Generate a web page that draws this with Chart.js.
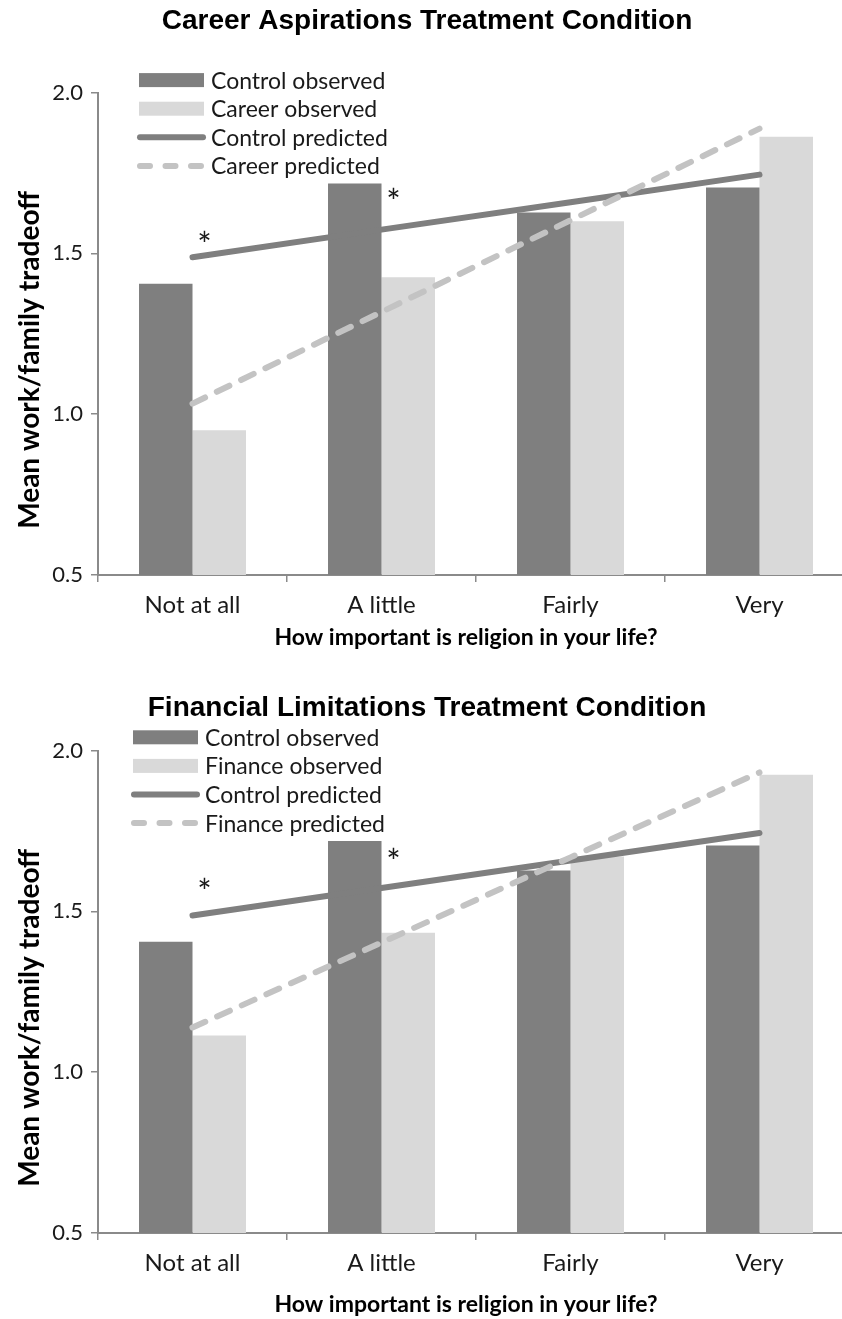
<!DOCTYPE html>
<html>
<head>
<meta charset="utf-8">
<script src="https://cdn.jsdelivr.net/npm/chart.js@4.4.1/dist/chart.umd.min.js"></script>
<style>
  html, body { margin: 0; padding: 0; background: #fff; overflow: hidden; }
  #wrap { position: relative; width: 842px; height: 1319px; overflow: hidden; }
  .box { position: absolute; left: 0; width: 854px; }
</style>
</head>
<body>
<div id="wrap">
  <div class="box" style="top:0; height:660px;"><canvas id="careerChart"></canvas></div>
  <div class="box" style="top:660px; height:659px;"><canvas id="financeChart"></canvas></div>
</div>
<script>
// Response categories and value axis
const categories = ['Not at all', 'A little', 'Fairly', 'Very'];
const yTickValues = [0.5, 1.0, 1.5, 2.0];

// Career aspirations condition
const careerControlObserved  = [1.406, 1.717, 1.627, 1.705];
const careerTreatObserved    = [0.950, 1.426, 1.600, 1.863];
const careerControlPredicted = [1.488, 1.574, 1.659, 1.745];
const careerTreatPredicted   = [1.033, 1.318, 1.603, 1.888];
const careerStarIndex  = [0, 1];
const careerStarValues = [1.547, 1.682];

// Financial limitations condition
const financeControlObserved  = [1.406, 1.719, 1.627, 1.705];
const financeTreatObserved    = [1.114, 1.434, 1.671, 1.925];
const financeControlPredicted = [1.487, 1.573, 1.658, 1.744];
const financeTreatPredicted   = [1.139, 1.403, 1.668, 1.932];
const financeStarIndex  = [0, 1];
const financeStarValues = [1.583, 1.676];

const xAxisTitle = 'How important is religion in your life?';
const yAxisTitle = 'Mean work/family tradeoff';

const DARK = '#7f7f7f';
const LIGHT = '#d9d9d9';
const DASHED = '#c3c3c3';
const AXIS = '#8a8a8a';
const TEXT = '#1a1a1a';
const SANS = 'Lato, "Open Sans", sans-serif';

// Legend drawn inside the plot, upper left
const insideLegend = {
  id: 'insideLegend',
  afterDatasetsDraw(chart, args, opts) {
    const { ctx, chartArea } = chart;
    const x0 = chartArea.left + opts.dx;
    const y0 = chartArea.top + opts.dy;
    ctx.save();
    ctx.font = opts.font;
    ctx.textBaseline = 'middle';
    ctx.textAlign = 'left';
    chart.data.datasets.forEach((ds, i) => {
      const y = y0 + i * opts.rowGap;
      if (ds.type === 'bar') {
        ctx.fillStyle = ds.backgroundColor;
        ctx.fillRect(x0, y - 7, 65, 14);
      } else {
        ctx.strokeStyle = ds.borderColor;
        ctx.lineWidth = 6;
        ctx.lineCap = 'round';
        ctx.setLineDash(ds.borderDash && ds.borderDash.length ? [10, 15.5] : []);
        ctx.beginPath();
        ctx.moveTo(x0 + 1, y);
        ctx.lineTo(x0 + 64, y);
        ctx.stroke();
        ctx.setLineDash([]);
      }
      ctx.fillStyle = TEXT;
      ctx.fillText(ds.label, x0 + opts.textGap, y + 1);
    });
    ctx.restore();
  }
};

// Significance asterisks placed on the category / value scales
const starMarks = {
  id: 'starMarks',
  afterDatasetsDraw(chart, args, opts) {
    const { ctx, scales } = chart;
    ctx.save();
    ctx.font = '34px ' + SANS;
    ctx.fillStyle = TEXT;
    ctx.textAlign = 'center';
    ctx.textBaseline = 'middle';
    opts.index.forEach((ci, k) => {
      const x = scales.x.getPixelForValue(ci) + opts.shift;
      const y = scales.y.getPixelForValue(opts.values[k]);
      ctx.fillText('*', x, y + 8);
    });
    ctx.restore();
  }
};

// Axis titles, positioned against the plot area
const axisTitles = {
  id: 'axisTitles',
  afterDraw(chart, args, opts) {
    const { ctx, chartArea } = chart;
    ctx.save();
    ctx.fillStyle = '#000';
    ctx.textAlign = 'center';
    ctx.textBaseline = 'middle';
    ctx.font = 'bold 23px ' + SANS;
    ctx.fillText(xAxisTitle, (chartArea.left + chartArea.right) / 2 + opts.xShift, chartArea.bottom + opts.xDrop);
    ctx.translate(opts.yX, (chartArea.top + chartArea.bottom) / 2 + opts.yShift);
    ctx.rotate(-Math.PI / 2);
    ctx.font = 'bold 28px ' + SANS;
    ctx.fillText(yAxisTitle, 0, 0);
    ctx.restore();
  }
};

function buildChart(id, cfg) {
  return new Chart(document.getElementById(id), {
    type: 'bar',
    data: {
      labels: categories,
      datasets: [
        { type: 'bar', label: 'Control observed', data: cfg.ctrlObs, backgroundColor: DARK, order: 2,
          categoryPercentage: 0.566, barPercentage: 1.0 },
        { type: 'bar', label: cfg.name + ' observed', data: cfg.treatObs, backgroundColor: LIGHT, order: 2,
          categoryPercentage: 0.566, barPercentage: 1.0 },
        { type: 'line', label: 'Control predicted', data: cfg.ctrlPred, borderColor: DARK, borderWidth: 6,
          borderCapStyle: 'round', pointRadius: 0, fill: false, order: 1, tension: 0 },
        { type: 'line', label: cfg.name + ' predicted', data: cfg.treatPred, borderColor: DASHED, borderWidth: 6,
          borderCapStyle: 'round', borderDash: [14, 13], pointRadius: 0, fill: false, order: 0, tension: 0 }
      ]
    },
    options: {
      responsive: true,
      maintainAspectRatio: false,
      animation: false,
      events: [],
      layout: { padding: { left: 0, right: 0, top: 0, bottom: 0 } },
      plugins: {
        legend: { display: false },
        tooltip: { enabled: false },
        title: {
          display: true,
          text: cfg.title,
          color: '#000',
          font: { family: '"Liberation Sans", Arial, sans-serif', size: 28, weight: 'bold' },
          padding: { top: cfg.titleTop, bottom: cfg.titleBottom }
        },
        insideLegend: { dx: cfg.legendDx, dy: cfg.legendDy, rowGap: 28.6, textGap: 72, font: '23px ' + SANS },
        starMarks: { index: cfg.starIndex, values: cfg.starValues, shift: 12 },
        axisTitles: { xShift: -10, xDrop: cfg.xDrop, yX: 30, yShift: 26 }
      },
      scales: {
        x: {
          offset: true,
          afterFit: (s) => { s.height = cfg.xHeight; },
          grid: { display: true, offset: true, drawOnChartArea: false, drawTicks: true, tickLength: 7, color: AXIS, lineWidth: 1.5 },
          border: { display: true, color: AXIS, width: 2 },
          ticks: { color: TEXT, font: { family: SANS, size: 24 }, padding: 9 }
        },
        y: {
          min: 0.5,
          max: 2.0,
          afterFit: (s) => { s.width = 98; },
          afterBuildTicks: (s) => { s.ticks = yTickValues.map(v => ({ value: v })); },
          grid: { display: true, drawOnChartArea: false, drawTicks: true, tickLength: 7, color: AXIS, lineWidth: 1.5 },
          border: { display: true, color: AXIS, width: 2 },
          ticks: { color: TEXT, font: { family: SANS, size: 22 }, padding: 8, callback: (v) => Number(v).toFixed(1) }
        }
      }
    },
    plugins: [insideLegend, starMarks, axisTitles]
  });
}

buildChart('careerChart', {
  title: 'Career Aspirations Treatment Condition',
  name: 'Career',
  ctrlObs: careerControlObserved,
  treatObs: careerTreatObserved,
  ctrlPred: careerControlPredicted,
  treatPred: careerTreatPredicted,
  starIndex: careerStarIndex,
  starValues: careerStarValues,
  titleTop: 4, titleBottom: 55,
  xHeight: 85, xDrop: 63,
  legendDx: 41, legendDy: -12.5
});

buildChart('financeChart', {
  title: 'Financial Limitations Treatment Condition',
  name: 'Finance',
  ctrlObs: financeControlObserved,
  treatObs: financeTreatObserved,
  ctrlPred: financeControlPredicted,
  treatPred: financeTreatPredicted,
  starIndex: financeStarIndex,
  starValues: financeStarValues,
  titleTop: 31, titleBottom: 26,
  xHeight: 86, xDrop: 72,
  legendDx: 35, legendDy: -13.3
});
</script>
</body>
</html>
